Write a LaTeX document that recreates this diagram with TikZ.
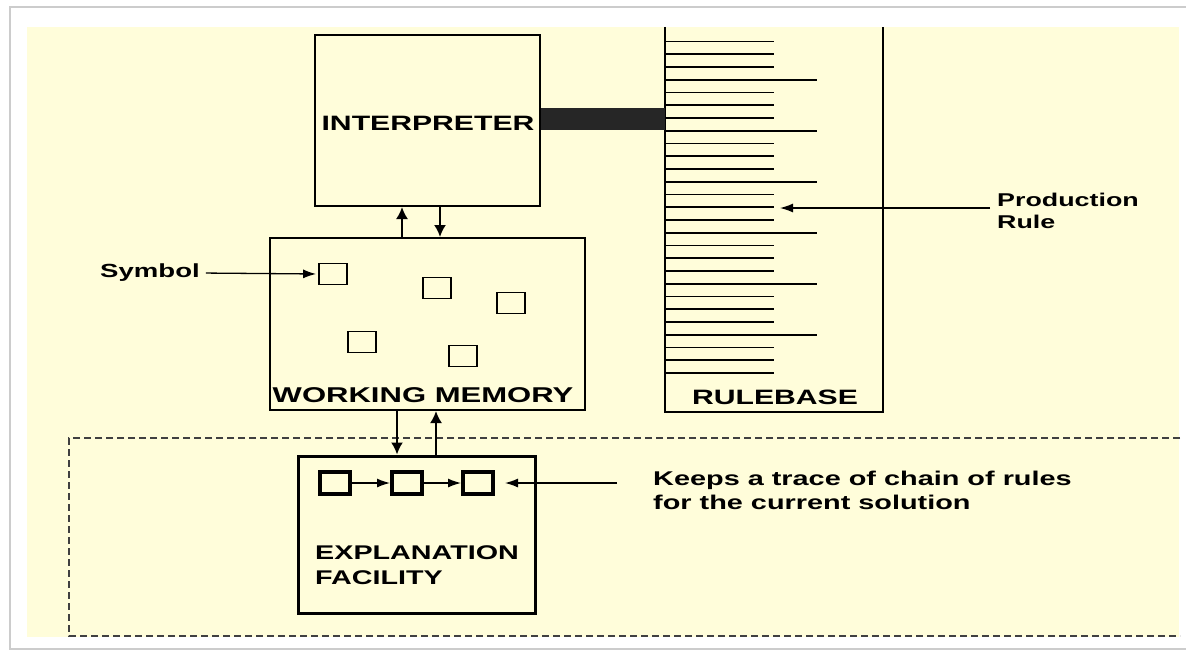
\documentclass[tikz,border=0pt]{standalone}
\usepackage{fontspec}
\newfontfamily\diagfont[FakeStretch=1.45]{Liberation Sans}
\usepackage{tikz}
\usetikzlibrary{arrows.meta}
\definecolor{paper}{RGB}{255,253,218}
\definecolor{band}{RGB}{38,38,38}

\begin{document}
\begin{tikzpicture}[x=1pt, y=-1pt]
    \tikzstyle{box}=[draw, line width=2pt, inner sep=0pt];
    \tikzstyle{sym}=[draw, line width=1.8pt, minimum width=28pt, minimum height=21pt, inner sep=0pt];
    \tikzstyle{trc}=[draw, line width=4pt, minimum width=30pt, minimum height=22pt, inner sep=0pt];
    \tikzstyle{lbl}=[inner sep=0pt, font=\diagfont\bfseries\fontsize{20.8}{24}\selectfont];
    \tikzstyle{txt}=[inner sep=0pt, align=left, font=\diagfont\bfseries\fontsize{19}{23.5}\selectfont];
    \tikzstyle{arr}=[-{Latex[length=12pt,width=12pt]}, line width=2pt];
    \tikzstyle{tharr}=[-{Latex[length=13pt,width=9pt]}, line width=1.3pt];
    %page
    \useasboundingbox (0,0) rectangle (1186,654);
    \draw[black!20, line width=2pt, fill=white] (10,7) rectangle (1200,649);
    \fill[paper] (27,27) rectangle (1179,637);
    \draw[dashed, black!75, line width=1.5pt, dash pattern=on 7pt off 4pt] (1180,438) -| (69,636) -- (1180,636);
    %interpreter
    \node[box, minimum width=225pt, minimum height=171pt] (interp) at (427.5,120.5) {};
    \node[lbl] (interpL) at (428,123) {INTERPRETER};
    %rulebase
    \node[inner sep=0pt, minimum width=218pt, minimum height=385pt] (rb) at (774,219.5) {};
    \draw[line width=2pt] (rb.north west) |- (rb.south east) -- (rb.north east);
    \foreach \k in {0,...,26} {
        \pgfmathsetmacro{\len}{mod(\k,4)==3 ? 152 : 109}
        \draw[line width=1.6pt] (rb.north west) ++(0,{14.7+12.75*\k}) -- +(\len,0);
    }
    \node[lbl] (rbL) at (775,397) {RULEBASE};
    \coordinate (bnd) at (0,119);
    \draw[band, line width=22pt] (interp.east |- bnd) -- (rb.west |- bnd);
    \node[txt, anchor=west, font=\diagfont\bfseries\fontsize{18.5}{22.5}\selectfont] (prod) at (997,211) {Production\\Rule};
    \coordinate (prA) at (990,208);
    \coordinate (prB) at (780,208);
    \draw[tharr] (prA) -- (prB);
    %working memory
    \node[box, minimum width=315pt, minimum height=172pt] (wm) at (427.5,324) {};
    \node[lbl, font=\diagfont\bfseries\fontsize{21.4}{24}\selectfont] (wmL) at (423,395) {WORKING MEMORY};
    \node[sym] (s1) at (333,274) {};
    \node[sym] (s2) at (437,288) {};
    \node[sym] (s3) at (511,303) {};
    \node[sym] (s4) at (362,342) {};
    \node[sym] (s5) at (463,356) {};
    \node[txt] (symL) at (150,273) {Symbol};
    \draw[tharr, shorten <=6pt, shorten >=2pt] (symL.east) -- (s1.west);
    \coordinate (up) at (402,0);
    \coordinate (dn) at (440,0);
    \draw[arr] (wm.north -| up) -- (interp.south -| up);
    \draw[arr] (interp.south -| dn) -- (wm.north -| dn);
    %explanation facility
    \node[box, line width=3pt, minimum width=237pt, minimum height=157pt] (ef) at (416.5,534.5) {};
    \node[txt, anchor=west, font=\diagfont\bfseries\fontsize{19.8}{25}\selectfont] (efL) at (315,565.5) {EXPLANATION\\FACILITY};
    \coordinate (dn2) at (397,0);
    \coordinate (up2) at (436,0);
    \draw[arr] (wm.south -| dn2) -- (ef.north -| dn2);
    \draw[arr] (ef.north -| up2) -- (wm.south -| up2);
    \node[trc] (t1) at (335,483) {};
    \node[trc] (t2) at (407,483) {};
    \node[trc] (t3) at (478,483) {};
    \draw[tharr] (t1) -- (t2);
    \draw[tharr] (t2) -- (t3);
    \node[txt, anchor=west, font=\diagfont\bfseries\fontsize{19.9}{23.5}\selectfont] (keep) at (653,490.5) {Keeps a trace of chain of rules\\for the current solution};
    \coordinate (kp) at (617,483);
    \draw[tharr] (kp) -- ([xshift=10pt]t3.east);
\end{tikzpicture}
\end{document}
